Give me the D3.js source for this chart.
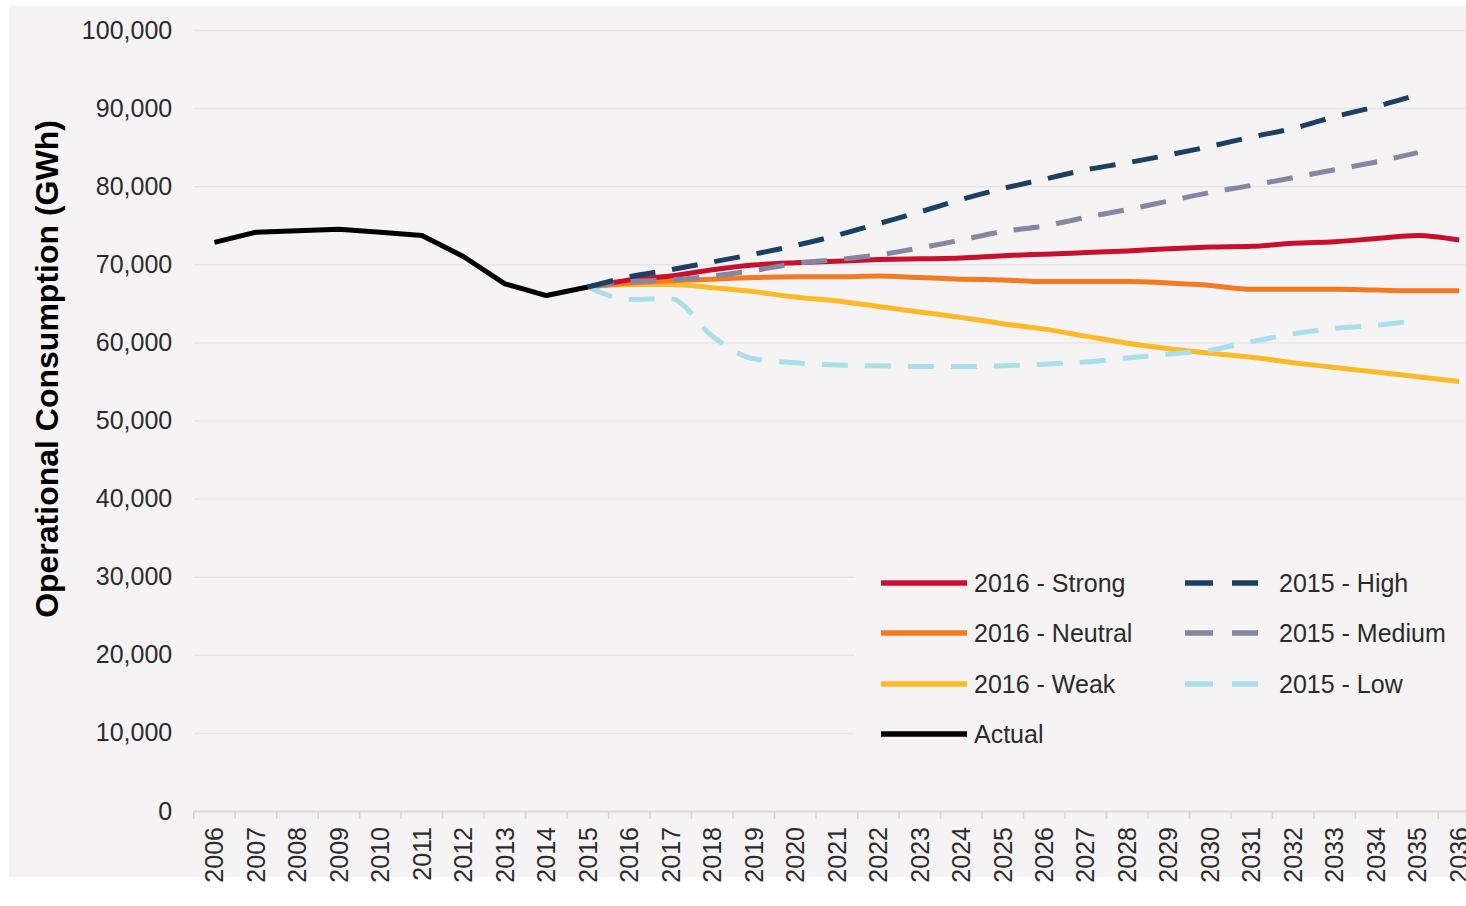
<!DOCTYPE html>
<meta charset="utf-8">
<style>

body {
  margin: 0;
  background: #fff;
}

svg {
  display: block;
  font-family: "Liberation Sans", Arial, sans-serif;
}

.yaxis line {
  stroke: #e6e4e6;
  stroke-width: 1.5px;
}

.yaxis text, .xaxis text, .legend text {
  fill: #2b2b2b;
  font-size: 25px;
}

.xaxis .domain, .xticks line {
  stroke: #d6d6d6;
  stroke-width: 1.5px;
}

</style>
<svg width="1466" height="906"></svg>
<script src="https://d3js.org/d3.v7.min.js"></script>
<script>

var years = ["2006", "2007", "2008", "2009", "2010", "2011", "2012", "2013", "2014", "2015",
  "2016", "2017", "2018", "2019", "2020", "2021", "2022", "2023", "2024", "2025", "2026",
  "2027", "2028", "2029", "2030", "2031", "2032", "2033", "2034", "2035", "2036"];

var yTicks = [0, 10000, 20000, 30000, 40000, 50000, 60000, 70000, 80000, 90000, 100000];

// 2006 - 2015
var actual = [72800, 74100, 74300, 74500, 74100, 73700, 71000, 67500, 66000, 67100];

// 2015 - 2036
var strong2016 = [67100, 68000, 68500, 69300, 69900, 70200, 70400, 70600, 70700, 70800, 71100,
  71300, 71500, 71700, 72000, 72200, 72300, 72700, 72900, 73300, 73700, 73100];
var neutral2016 = [67100, 67600, 67900, 68100, 68300, 68400, 68400, 68500, 68300, 68100, 68000,
  67800, 67800, 67800, 67600, 67300, 66800, 66800, 66800, 66700, 66600, 66600];
var weak2016 = [67100, 67400, 67400, 67000, 66500, 65800, 65300, 64600, 63900, 63200, 62400,
  61700, 60800, 59900, 59200, 58600, 58100, 57400, 56800, 56200, 55600, 55000];

// 2015 - 2035
var high2015 = [67100, 68400, 69300, 70300, 71300, 72400, 73700, 75200, 76700, 78300, 79700,
  80900, 82100, 83000, 84000, 85100, 86300, 87400, 88900, 90200, 91700];
var medium2015 = [67100, 67800, 68000, 68500, 69200, 70100, 70600, 71200, 72100, 73100, 74200,
  74900, 76000, 77000, 78100, 79200, 80100, 81100, 82100, 83100, 84300];
var low2015 = [67100, 65500, 65600, 60800, 57900, 57400, 57100, 57000, 56900, 56900, 57000,
  57200, 57500, 58000, 58500, 59000, 60100, 61100, 61800, 62200, 62800];

var series = [
  {name: "2016 - Weak", start: "2015", values: weak2016, color: "#fdb927", dash: null, smooth: true},
  {name: "2016 - Neutral", start: "2015", values: neutral2016, color: "#f47a22", dash: null, smooth: true},
  {name: "2016 - Strong", start: "2015", values: strong2016, color: "#c8102e", dash: null, smooth: true},
  {name: "2015 - Low", start: "2015", values: low2015, color: "#aadeea", dash: "26,17", smooth: true},
  {name: "2015 - Medium", start: "2015", values: medium2015, color: "#85869f", dash: "26,17", smooth: true},
  {name: "2015 - High", start: "2015", values: high2015, color: "#1d3f61", dash: "26,17", smooth: true},
  {name: "Actual", start: "2006", values: actual, color: "#000", dash: null, smooth: false}
];

var bg = "#f5f3f4";

var svg = d3.select("svg"),
    width = +svg.attr("width"),
    height = +svg.attr("height");

svg.append("rect")
  .attr("x", 9).attr("y", 6)
  .attr("width", width - 9).attr("height", 871)
  .attr("fill", bg);

var x = d3.scaleBand().domain(years).range([193.7, 1479.9]);
var y = d3.scaleLinear().domain([0, 100000]).range([811, 30]);
var bw = x.bandwidth();

// y axis + gridlines
svg.append("g")
  .attr("class", "yaxis")
  .attr("transform", "translate(193.7,0)")
  .call(d3.axisLeft(y).tickValues(yTicks).tickSize(-(width - 193.7)).tickPadding(21.5)
    .tickFormat(d3.format(",")))
  .call(function(g) { g.select(".domain").remove(); });

// x axis
var xg = svg.append("g")
  .attr("class", "xaxis")
  .attr("transform", "translate(0,811)")
  .call(d3.axisBottom(x).tickSize(0).tickSizeOuter(0));

xg.selectAll("text")
  .attr("x", 0).attr("y", 0).attr("dy", "0.35em")
  .attr("text-anchor", "end")
  .attr("transform", "translate(0,16) rotate(-90)");

var edges = years.map(function(d) { return x(d); }).concat([x.range()[1]]);
svg.append("g")
  .attr("class", "xticks")
  .selectAll("line")
  .data(edges)
  .enter().append("line")
    .attr("x1", function(d) { return d; })
    .attr("x2", function(d) { return d; })
    .attr("y1", 811).attr("y2", 819);

// y title
svg.append("text")
  .attr("transform", "translate(58,369) rotate(-90)")
  .attr("text-anchor", "middle")
  .style("font-size", "32px")
  .style("font-weight", "bold")
  .style("fill", "#000")
  .text("Operational Consumption (GWh)");

// lines
var smoothLine = d3.line()
  .x(function(d) { return x(d.year) + bw / 2; })
  .y(function(d) { return y(d.value); })
  .curve(d3.curveMonotoneX);

var straightLine = d3.line()
  .x(function(d) { return x(d.year) + bw / 2; })
  .y(function(d) { return y(d.value); });

svg.append("g")
  .selectAll("path")
  .data(series)
  .enter().append("path")
    .attr("fill", "none")
    .attr("stroke", function(d) { return d.color; })
    .attr("stroke-width", 5)
    .attr("stroke-linejoin", "round")
    .attr("stroke-dasharray", function(d) { return d.dash; })
    .attr("d", function(d) {
      var i0 = years.indexOf(d.start);
      var pts = d.values.map(function(v, i) { return {year: years[i0 + i], value: v}; });
      return d.smooth ? smoothLine(pts) : straightLine(pts);
    });

// legend
var legend = svg.append("g").attr("class", "legend");

legend.append("rect")
  .attr("x", 855).attr("y", 556)
  .attr("width", width - 855).attr("height", 206)
  .attr("fill", bg);

var legendCols = [
  {x1: 881, x2: 967, tx: 974, items: ["2016 - Strong", "2016 - Neutral", "2016 - Weak", "Actual"]},
  {x1: 1185, x2: 1258, tx: 1279, items: ["2015 - High", "2015 - Medium", "2015 - Low"]}
];
var rowY = [583, 633, 684, 734];

legendCols.forEach(function(col) {
  col.items.forEach(function(name, i) {
    var s = series.find(function(d) { return d.name === name; });
    legend.append("line")
      .attr("x1", col.x1).attr("x2", col.x2)
      .attr("y1", rowY[i]).attr("y2", rowY[i])
      .attr("stroke", s.color)
      .attr("stroke-width", 5.5)
      .attr("stroke-dasharray", s.dash ? "28,19" : null);
    legend.append("text")
      .attr("x", col.tx).attr("y", rowY[i])
      .attr("dy", "0.35em")
      .text(name);
  });
});

</script>
